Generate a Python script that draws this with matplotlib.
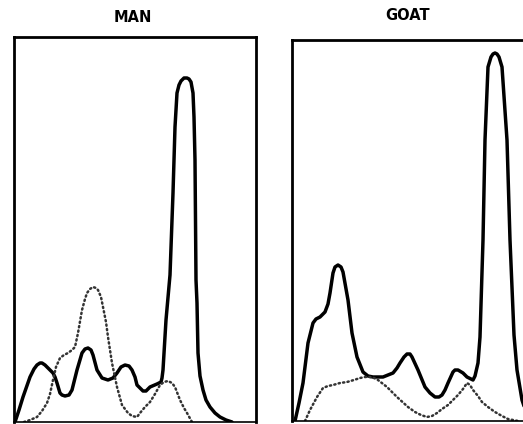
import numpy as np
import matplotlib
matplotlib.use("Agg")
import matplotlib.pyplot as plt

# densitometer traces (x: distance along strip, y: optical density, arbitrary units)
man_solid_x = [1, 5, 9, 16, 20, 23, 26, 28, 31, 34, 39, 41, 43, 46, 48, 51, 55, 58, 63, 68, 71,
               74, 77, 79, 83, 88, 94, 99, 103, 107, 111, 115, 118, 121, 123, 126, 129, 132,
               136, 143, 147, 148, 149, 152, 156, 159, 161, 163, 165, 167, 170, 173, 175, 177,
               179, 180, 181, 182, 183, 184, 186, 189, 192, 196, 201, 206, 212, 218]
man_solid_y = [0, 12, 25, 45, 53, 57, 59, 59, 57, 54, 49, 45, 39, 29, 27, 26, 27, 32, 52, 69, 73,
               74, 72, 67, 52, 44, 42, 44, 49, 55, 57, 56, 52, 45, 37, 34, 31, 31,
               35, 38, 40, 44, 52, 102, 147, 229, 295, 329, 337, 341, 344, 344, 343, 340,
               329, 305, 262, 142, 119, 69, 46, 32, 22, 15, 9, 5, 2, 0]

man_dot_x = [10, 16, 23, 28, 33, 36, 39, 42, 46, 50, 54, 58, 61, 64, 68, 71, 73, 76, 79, 82, 84,
             87, 89, 92, 94, 98, 103, 108, 114, 118, 123, 126, 131, 136, 141, 146, 150, 154,
             158, 161, 166, 170, 173, 178]
man_dot_y = [0, 2, 5, 11, 19, 28, 42, 55, 64, 67, 69, 72, 75, 89, 112, 123, 129, 133, 135, 134,
             132, 125, 115, 100, 85, 59, 35, 17, 9, 6, 5, 9, 15, 20, 28, 37, 40, 41,
             39, 35, 22, 14, 9, 0]

goat_solid_x = [3, 7, 11, 16, 21, 24, 28, 33, 36, 38, 41, 43, 46, 49, 51, 56, 60, 65, 71, 76,
                81, 91, 101, 105, 108, 112, 115, 118, 120, 126, 133, 138, 143, 147, 150, 153,
                156, 161, 163, 166, 171, 175, 181, 183, 186, 188, 191, 193, 196, 199, 201,
                203, 205, 207, 210, 215, 218, 222, 225, 230, 235, 238]
goat_solid_y = [0, 18, 38, 78, 98, 102, 104, 109, 117, 128, 148, 154, 156, 154, 149, 121, 88, 64,
                49, 45, 44, 44, 48, 53, 58, 64, 67, 67, 64, 51, 34, 28, 24, 24, 26, 31,
                38, 49, 51, 51, 48, 44, 41, 45, 58, 84, 181, 281, 354, 364, 367,
                368, 367, 364, 354, 281, 181, 86, 51, 21, 6, 0]

goat_dot_x = [13, 18, 25, 31, 36, 41, 48, 55, 62, 68, 73, 78, 82, 86, 95, 105, 116, 123, 129,
              135, 140, 145, 150, 156, 161, 166, 171, 175, 178, 181, 186, 190, 196, 203, 210,
              216, 226]
goat_dot_y = [0, 11, 24, 33, 35, 36, 38, 39, 41, 43, 44, 44, 43, 41, 34, 24, 14, 9, 6,
              4, 5, 8, 12, 16, 21, 26, 32, 38, 36, 31, 25, 19, 14, 9, 5,
              2, 0]

W, H = 523, 424
fig = plt.figure(figsize=(W / 100, H / 100), dpi=100)


def panel(rect, title, title_xy, xs, ys, xd, yd, xmax, ymax):
    ax = fig.add_axes(rect)
    ax.plot(xs, ys, color="black", lw=2.5, solid_joinstyle="round", solid_capstyle="round")
    ax.plot(xd, yd, color="#333333", lw=1.8, linestyle=(0, (0.5, 1.3)), dash_capstyle="round")
    ax.set_xlim(0, xmax)
    ax.set_ylim(0, ymax)
    ax.set_xticks([])
    ax.set_yticks([])
    for side in ["left", "top", "right"]:
        ax.spines[side].set_linewidth(2.0)
    ax.spines["bottom"].set_linewidth(1.2)
    fig.text(title_xy[0] / W, 1 - title_xy[1] / H, title, ha="center", va="center",
             fontsize=10.5, fontweight="bold")
    return ax


panel([14 / W, 2 / H, 242 / W, 385 / H], "MAN", (133, 17),
      man_solid_x, man_solid_y, man_dot_x, man_dot_y, 242, 385)
panel([292 / W, 3 / H, 240 / W, 381 / H], "GOAT", (408, 16),
      goat_solid_x, goat_solid_y, goat_dot_x, goat_dot_y, 240, 381)

fig.savefig("out.png", dpi=100)
